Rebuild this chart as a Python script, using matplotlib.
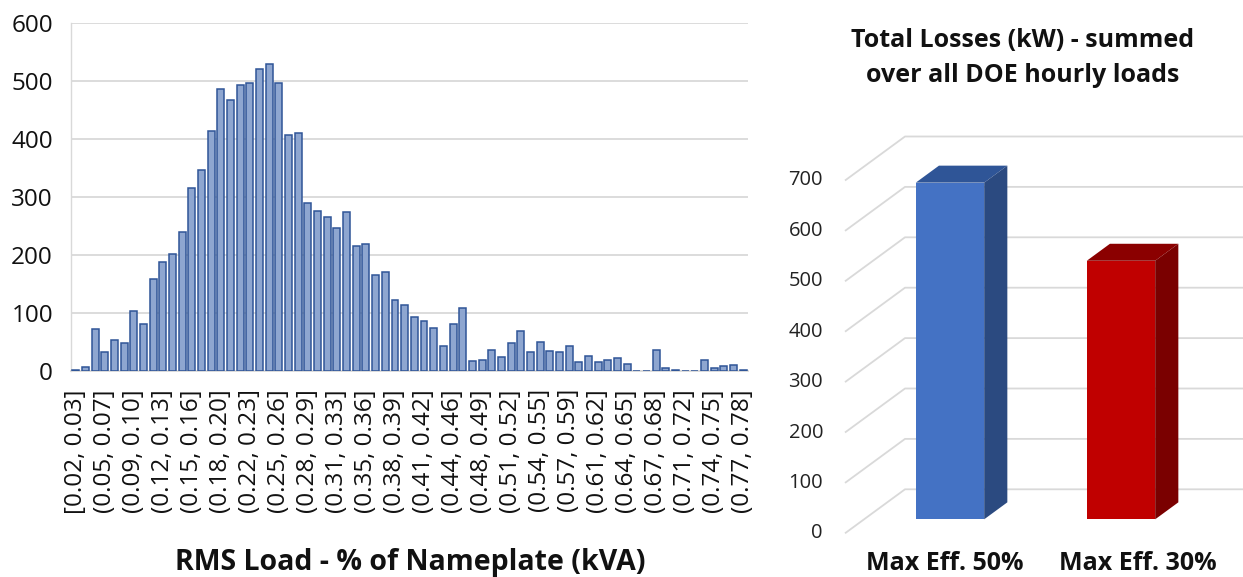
import matplotlib
matplotlib.use("Agg")
import matplotlib.pyplot as plt
import matplotlib.transforms as mtransforms
from matplotlib.patches import Polygon
import numpy as np

plt.rcParams['font.family'] = ['Open Sans', 'DejaVu Sans']

# ── Histogram data (RMS load bins, counts) ──
counts = [1, 7, 72, 32, 53, 48, 104, 81, 158, 188,
          202, 239, 316, 346, 415, 487, 467, 494, 497, 522,
          529, 497, 408, 411, 290, 276, 265, 246, 274, 216,
          220, 165, 170, 123, 114, 93, 86, 74, 43, 81,
          109, 17, 19, 36, 24, 48, 69, 32, 50, 34,
          32, 43, 15, 26, 15, 19, 22, 12, 0, 0,
          36, 5, 1, 0, 0, 19, 5, 8, 10, 2]
bin_labels = ["[0.02, 0.03]", "(0.05, 0.07]", "(0.09, 0.10]", "(0.12, 0.13]",
              "(0.15, 0.16]", "(0.18, 0.20]", "(0.22, 0.23]", "(0.25, 0.26]",
              "(0.28, 0.29]", "(0.31, 0.33]", "(0.35, 0.36]", "(0.38, 0.39]",
              "(0.41, 0.42]", "(0.44, 0.46]", "(0.48, 0.49]", "(0.51, 0.52]",
              "(0.54, 0.55]", "(0.57, 0.59]", "(0.61, 0.62]", "(0.64, 0.65]",
              "(0.67, 0.68]", "(0.71, 0.72]", "(0.74, 0.75]", "(0.77, 0.78]"]
label_every = 3

# ── 3D column data ──
cases = ["Max Eff. 50%", "Max Eff. 30%"]
losses = [668, 513]
face_cols = ["#4472C4", "#C00000"]
top_cols = ["#2F5597", "#8B0000"]
side_cols = ["#2B4A80", "#7A0000"]

W, H = 1243, 577
fig = plt.figure(figsize=(W / 100, H / 100), dpi=100, facecolor="white")

GRID = "#D9D9D9"
TXT = "#111111"


def px_box(x0, y0, x1, y1):
    return [x0 / W, 1 - y1 / H, (x1 - x0) / W, (y1 - y0) / H]


# ── Left: histogram ──
ax = fig.add_axes(px_box(71, 23.3, 748, 371))
idx = np.arange(len(counts))
ax.bar(idx, counts, width=0.72, color="#8EA6D0", edgecolor="#2F5597",
       linewidth=1.1, zorder=3)
ax.set_xlim(-0.5, len(counts) - 0.5)
ax.set_ylim(0, 600)
ax.set_yticks(range(0, 601, 100))
ax.yaxis.grid(True, color=GRID, linewidth=1.3, zorder=0)
ax.set_xticks(idx[::label_every])
ax.set_xticklabels(bin_labels, rotation=90, fontsize=17.5, color=TXT)
ax.tick_params(axis="x", length=0, pad=13)
ax.tick_params(axis="y", length=0, pad=13, labelsize=17.5, labelcolor=TXT)
for s in ["top", "right"]:
    ax.spines[s].set_visible(False)
ax.spines["left"].set_color(GRID)
ax.spines["left"].set_linewidth(1.0)
ax.spines["bottom"].set_color(GRID)
ax.spines["bottom"].set_linewidth(1.3)
fig.text(410 / W, 1 - 570 / H, "RMS Load - % of Nameplate (kVA)",
         ha="center", va="baseline", fontsize=20.5, fontweight="bold", color=TXT)

# ── Right: pseudo-3D columns ──
X0, SX = 930.9, 171.0         # pixel of category 0 (depth 0), px per category
Y0, SY = 533.3, 0.504         # pixel of value 0 (front plane), px per unit
AX_L, AX_R, AX_T, AX_B = 780, 1243, 120, 545
ax2 = fig.add_axes(px_box(AX_L, AX_T, AX_R, AX_B))
ax2.set_xlim((AX_L - X0) / SX, (AX_R - X0) / SX)
ax2.set_ylim((Y0 - AX_B) / SY, (Y0 - AX_T) / SY)
ax2.axis("off")

DX = 60 / SX                   # full depth offset in data units
DY = 44 / SY
wall_x = (845 - X0) / SX
xmax = ax2.get_xlim()[1]


def proj(x, y, d):
    return (x + d * DX, y + d * DY)


ticks = range(0, 701, 100)
for t in ticks:
    p0 = proj(wall_x, t, 0)
    p1 = proj(wall_x, t, 1)
    ax2.plot([p0[0], p1[0], xmax], [p0[1], p1[1], p1[1]], color=GRID,
             linewidth=1.3, zorder=1, solid_capstyle="butt")
    ax2.text((823 - X0) / SX, t, str(t), ha="right", va="center",
             fontsize=14.5, color="#222")

d1, d2 = 0.318, 0.704
bw = 0.40
for i, v in enumerate(losses):
    xl, xr = i - bw / 2, i + bw / 2
    fl = proj(xl, 0, d1)
    ax2.bar(fl[0] + bw / 2, v, width=bw, bottom=fl[1], color=face_cols[i],
            zorder=4)
    top = [proj(xl, v, d1), proj(xr, v, d1), proj(xr, v, d2), proj(xl, v, d2)]
    side = [proj(xr, 0, d1), proj(xr, v, d1), proj(xr, v, d2), proj(xr, 0, d2)]
    ax2.add_patch(Polygon(top, closed=True, facecolor=top_cols[i],
                          edgecolor="none", zorder=4))
    ax2.add_patch(Polygon(side, closed=True, facecolor=side_cols[i],
                          edgecolor="none", zorder=4))

trans = mtransforms.blended_transform_factory(ax2.transData, fig.transFigure)
for i, name in enumerate(cases):
    ax2.text(0.082 + i * 1.126, 1 - 570 / H, name, transform=trans,
             ha="center", va="baseline", fontsize=18, fontweight="bold",
             color=TXT, clip_on=False)

fig.text(1023 / W, 1 - 46.7 / H, "Total Losses (kW) - summed", ha="center",
         va="baseline", fontsize=18, fontweight="bold", color=TXT)
fig.text(1023 / W, 1 - 81.7 / H, "over all DOE hourly loads", ha="center",
         va="baseline", fontsize=18, fontweight="bold", color=TXT)

fig.savefig("out.png", dpi=100, facecolor="white")
